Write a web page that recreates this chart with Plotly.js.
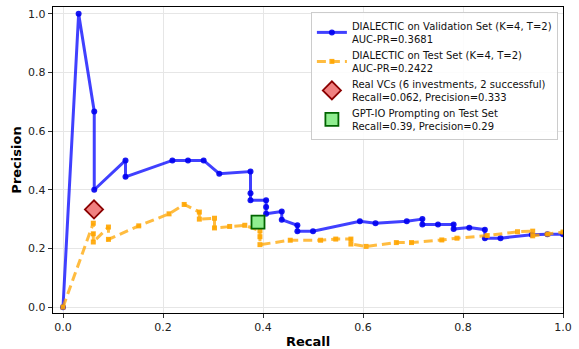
<!DOCTYPE html>
<html>
<head>
<meta charset="utf-8">
<script src="https://cdn.plot.ly/plotly-3.0.1.min.js"></script>
<style>html,body{margin:0;padding:0;background:#fff;}#chart{width:579px;height:349px;}</style>
</head>
<body>
<div id="chart"></div>
<script>
// Validation set PR curve (DIALECTIC, K=4, T=2)
const valRecall = [0, 0.03125, 0.0625, 0.0625, 0.125, 0.125, 0.21875, 0.25, 0.28125, 0.3125, 0.375, 0.375, 0.375, 0.40625, 0.40625, 0.40625, 0.4375, 0.4375, 0.46875, 0.46875, 0.5, 0.59375, 0.625, 0.6875, 0.71875, 0.71875, 0.75, 0.78125, 0.78125, 0.8125, 0.84375, 0.84375, 0.875, 0.9375, 0.96875, 1.0];
const valPrecision = [0, 1.0, 0.667, 0.40, 0.50, 0.444, 0.50, 0.50, 0.50, 0.455, 0.462, 0.388, 0.364, 0.364, 0.341, 0.318, 0.326, 0.298, 0.279, 0.259, 0.259, 0.293, 0.286, 0.293, 0.30, 0.282, 0.282, 0.282, 0.266, 0.271, 0.264, 0.235, 0.235, 0.247, 0.248, 0.248];

// Test set PR curve
const testRecall = [0, 0.0606, 0.0606, 0.0606, 0.0909, 0.0909, 0.1515, 0.2121, 0.2424, 0.2727, 0.2727, 0.3030, 0.3030, 0.3333, 0.3636, 0.3939, 0.3939, 0.3939, 0.4545, 0.5152, 0.5455, 0.5758, 0.5758, 0.6061, 0.6667, 0.6970, 0.7576, 0.7879, 0.8485, 0.9091, 0.9394, 0.9394, 0.9697, 1.0];
const testPrecision = [0, 0.286, 0.25, 0.222, 0.273, 0.231, 0.277, 0.318, 0.35, 0.324, 0.30, 0.303, 0.27, 0.275, 0.279, 0.26, 0.24, 0.213, 0.228, 0.228, 0.232, 0.232, 0.215, 0.207, 0.22, 0.22, 0.229, 0.235, 0.244, 0.257, 0.259, 0.243, 0.249, 0.256];

// Single operating points
const vcRecall = [0.062], vcPrecision = [0.333];
const gptRecall = [0.39], gptPrecision = [0.29];

const xTicks = [0, 0.2, 0.4, 0.6, 0.8, 1.0];
const xTickLabels = ['0.0', '0.2', '0.4', '0.6', '0.8', '1.0'];
const yTicks = [0, 0.2, 0.4, 0.6, 0.8, 1.0];
const yTickLabels = ['0.0', '0.2', '0.4', '0.6', '0.8', '1.0'];

const legendNames = [
  'DIALECTIC on Validation Set (K=4, T=2)<br>AUC-PR=0.3681',
  'DIALECTIC on Test Set (K=4, T=2)<br>AUC-PR=0.2422',
  'Real VCs (6 investments, 2 successful)<br>Recall=0.062, Precision=0.333',
  'GPT-IO Prompting on Test Set<br>Recall=0.39, Precision=0.29'
];

const font = 'DejaVu Sans, sans-serif';

const traces = [
  {x: valRecall, y: valPrecision, type: 'scatter', mode: 'lines+markers', name: legendNames[0],
   line: {color: 'rgba(0,0,255,0.75)', width: 3},
   marker: {color: 'rgba(0,0,240,0.9)', size: 6, symbol: 'circle'}},
  {x: testRecall, y: testPrecision, type: 'scatter', mode: 'lines+markers', name: legendNames[1],
   line: {color: 'rgba(255,165,0,0.75)', width: 3, dash: '9px,5px'},
   marker: {color: 'rgba(255,165,0,0.9)', size: 5, symbol: 'square'}},
  {x: vcRecall, y: vcPrecision, type: 'scatter', mode: 'markers', name: legendNames[2],
   marker: {color: '#F08080', size: 14, symbol: 'diamond', line: {color: '#8B0000', width: 1.8}}},
  {x: gptRecall, y: gptPrecision, type: 'scatter', mode: 'markers', name: legendNames[3],
   marker: {color: '#90EE90', size: 13, symbol: 'square', line: {color: '#006400', width: 1.8}}}
];

const axisCommon = {
  showgrid: true, gridcolor: '#e6e6e6', gridwidth: 1,
  zeroline: false, showline: true, mirror: true, linecolor: '#000', linewidth: 1.2,
  ticks: 'outside', ticklen: 4, tickwidth: 1, tickcolor: '#333',
  tickfont: {family: font, size: 11, color: '#222'}, automargin: false
};

const layout = {
  width: 579, height: 349,
  margin: {l: 53, r: 16, t: 7, b: 36},
  paper_bgcolor: '#fff', plot_bgcolor: '#fff',
  showlegend: true,
  xaxis: Object.assign({}, axisCommon, {
    range: [-0.02, 1.0], tickvals: xTicks, ticktext: xTickLabels,
    title: {text: '<b>Recall</b>', font: {family: font, size: 13, color: '#000'}, standoff: 4}
  }),
  yaxis: Object.assign({}, axisCommon, {
    range: [-0.02, 1.023], tickvals: yTicks, ticktext: yTickLabels,
    title: {text: '<b>Precision</b>', font: {family: font, size: 13, color: '#000'}, standoff: 3}
  }),
  legend: {
    x: 0.99, y: 0.984, xanchor: 'right', yanchor: 'top',
    bgcolor: 'rgba(255,255,255,0.85)', bordercolor: '#cccccc', borderwidth: 1,
    font: {family: font, size: 10, color: '#111'},
    tracegroupgap: 0, itemwidth: 30
  }
};

Plotly.newPlot('chart', traces, layout, {staticPlot: true, displayModeBar: false});
</script>
</body>
</html>
